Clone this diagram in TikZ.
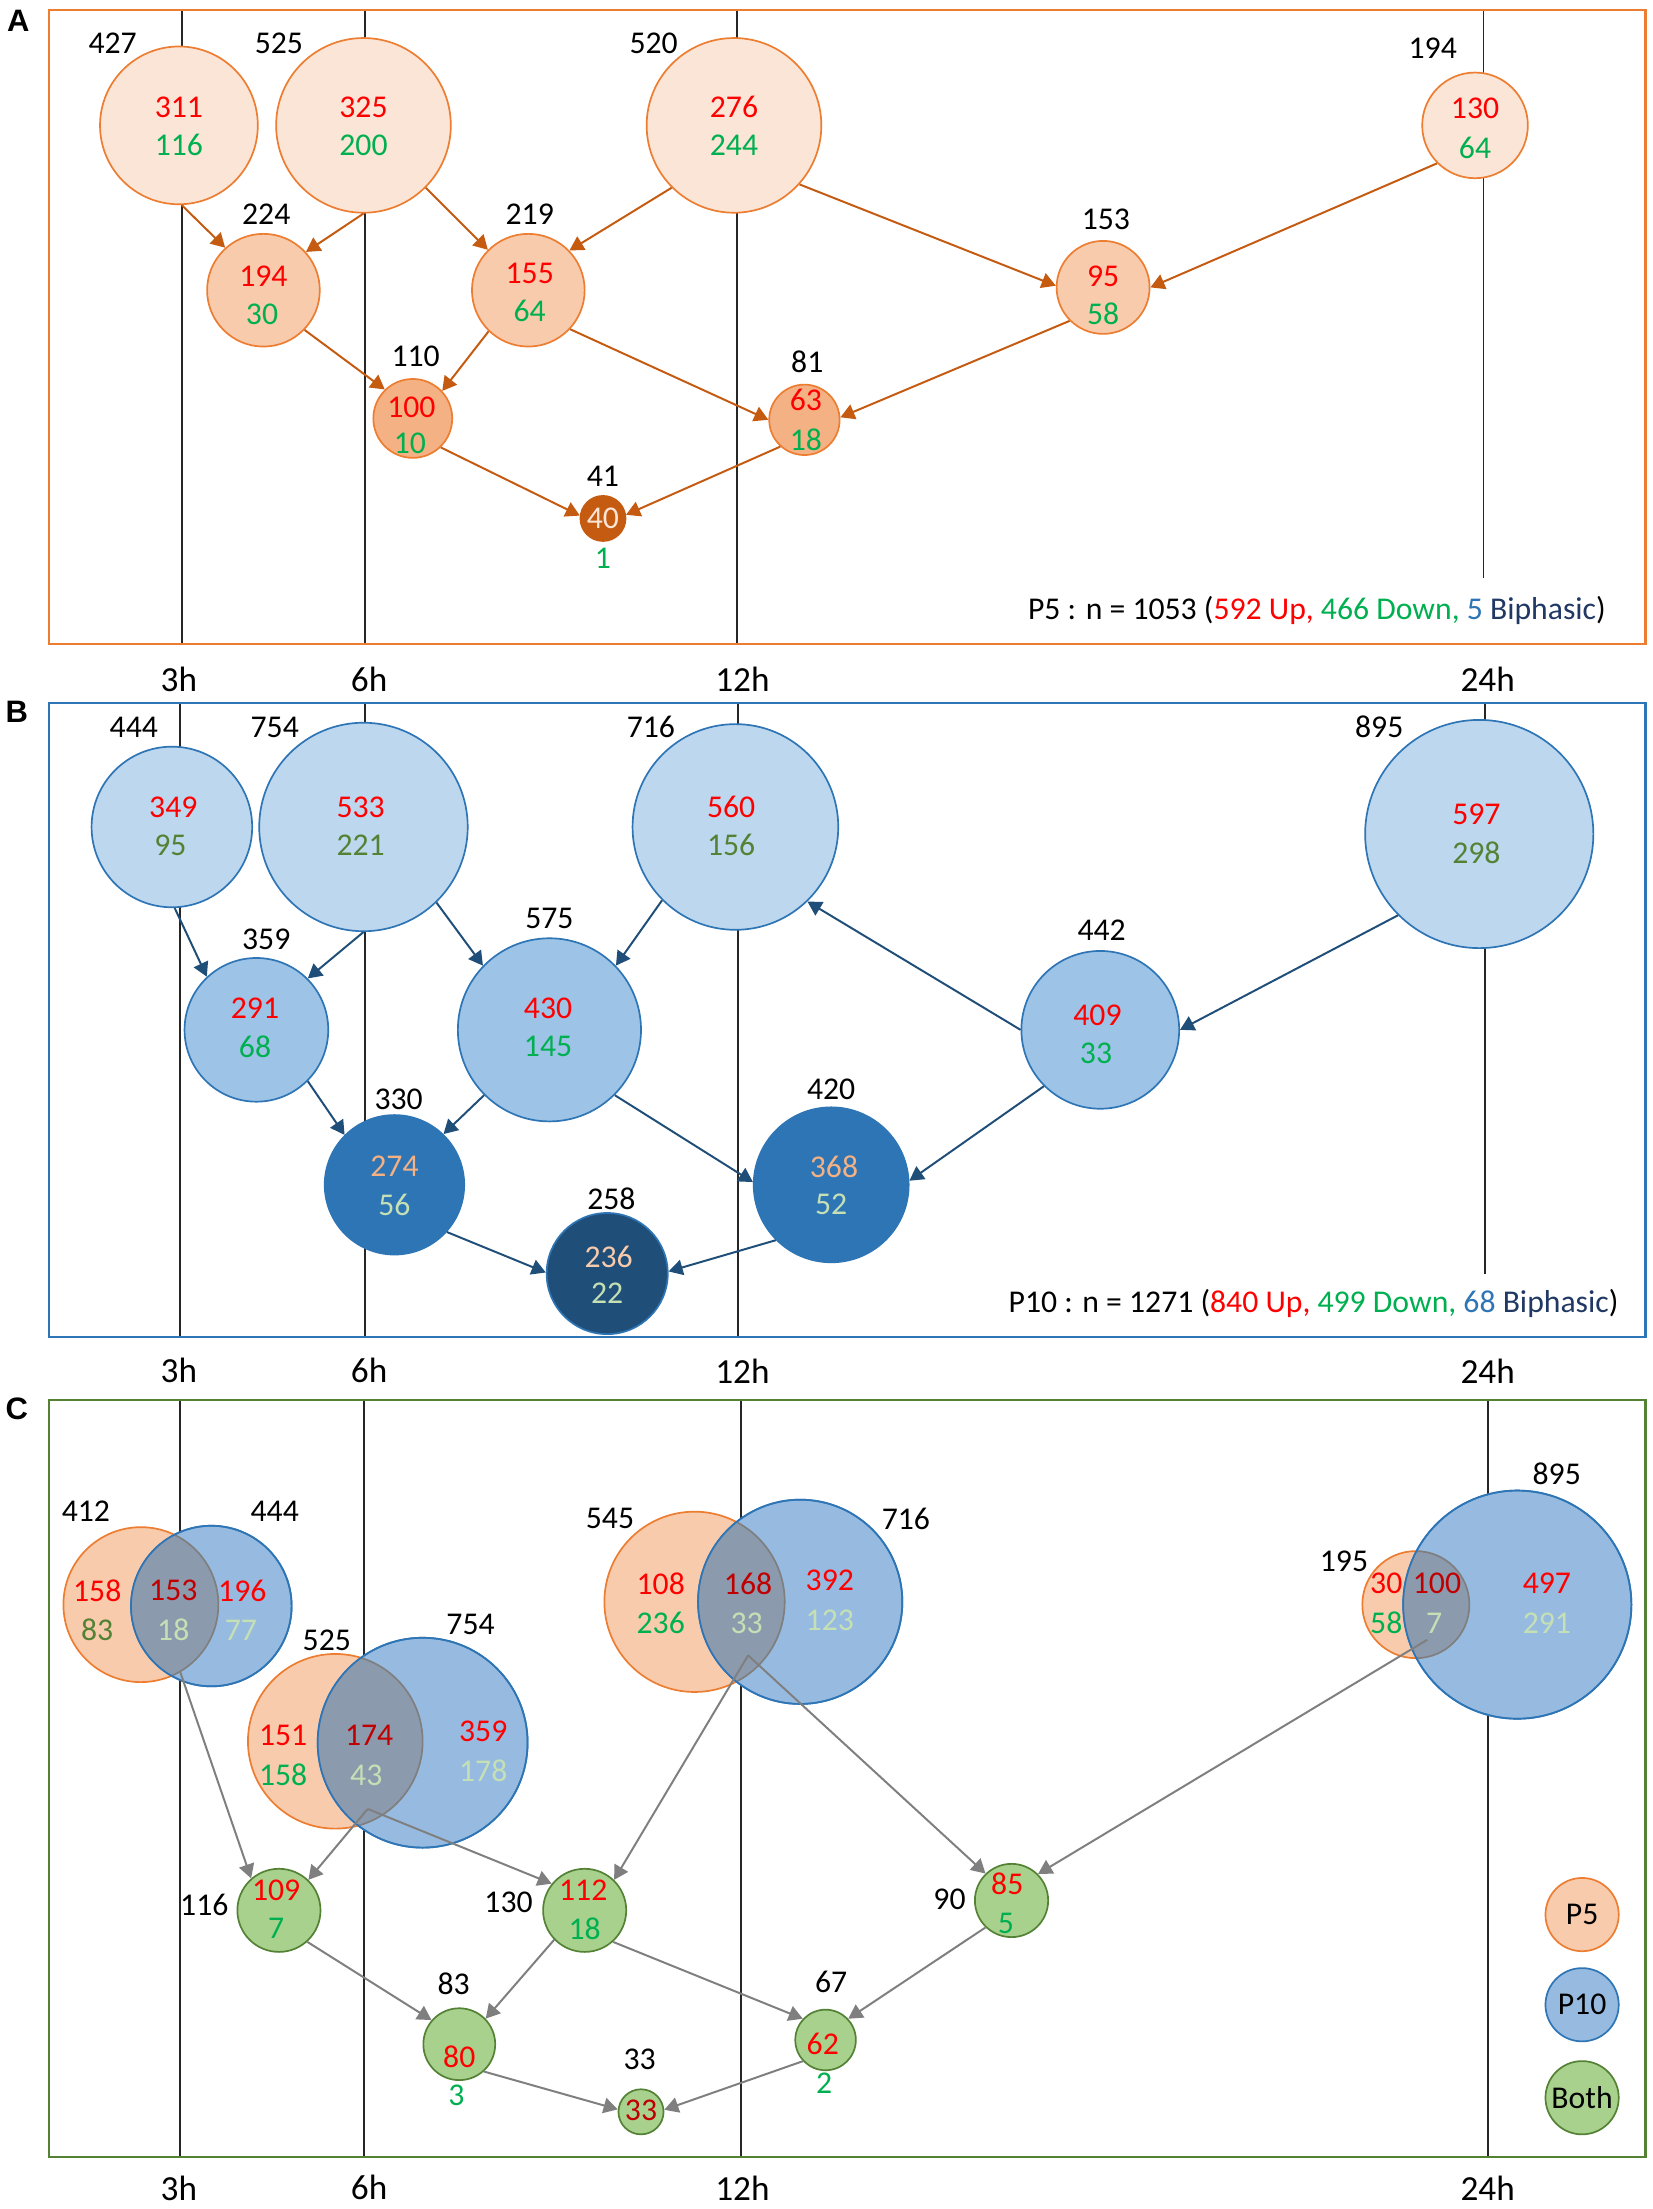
\documentclass[tikz,border=0pt]{standalone}
\usepackage{fontspec}
\setmainfont{Carlito}
\newfontfamily\hfont{Liberation Sans}
\usetikzlibrary{arrows.meta}
\definecolor{oBord}{HTML}{ED7D31}
\definecolor{oL}{HTML}{FBE5D6}
\definecolor{oM}{HTML}{F8CBAD}
\definecolor{oD}{HTML}{F4B183}
\definecolor{oX}{HTML}{C55A11}
\definecolor{bBord}{HTML}{2E75B6}
\definecolor{bL}{HTML}{BDD7EE}
\definecolor{bM}{HTML}{9DC3E6}
\definecolor{bD}{HTML}{2E75B6}
\definecolor{bX}{HTML}{1F4E79}
\definecolor{gF}{HTML}{A9D18E}
\definecolor{gBord}{HTML}{548235}
\definecolor{tR}{HTML}{FF0000}
\definecolor{tG}{HTML}{00B050}
\definecolor{tOl}{HTML}{548235}
\definecolor{tDR}{HTML}{C00000}
\definecolor{tLG}{HTML}{C5E0B4}
\definecolor{tPe}{HTML}{F4B183}
\definecolor{tPe2}{HTML}{F8CBAD}
\definecolor{cB}{HTML}{97BBE0}
\definecolor{lensc}{HTML}{8C9AAE}
\definecolor{arrCc}{HTML}{7F7F7F}
\definecolor{vl}{HTML}{262626}
\definecolor{tB}{HTML}{2E75B6}
\definecolor{tDB}{HTML}{203864}
\newcommand\numfont{\fontsize{22.5}{24}\selectfont}
\newcommand\vennlens[6]{%
  \begin{scope}\clip (#1,#2) circle[radius=#3pt]; \fill[lensc] (#4,#5) circle[radius=#6pt];\end{scope}
  \begin{scope}\clip (#4,#5) circle[radius=#6pt]; \draw[arrCc, line width=1.2pt] (#1,#2) circle[radius=#3pt];\end{scope}
  \draw[bBord, line width=1.2pt] (#4,#5) circle[radius=#6pt];}
\tikzset{
  nt/.style={inner sep=0pt, font=\numfont},
  tl/.style={inner sep=0pt, font=\fontsize{25}{27}\selectfont},
  plabel/.style={inner sep=0pt, font=\hfont\bfseries\fontsize{22}{24}\selectfont},
  bub/.style={circle, inner sep=0pt, minimum size=#1, line width=1.2pt},
  vline/.style={vl, line width=1.3pt},
  bx/.style={line width=1.5pt},
  arrO/.style={oX, line width=1.4pt, -{Triangle[length=10pt,width=11pt]}},
  arrB/.style={bX, line width=1.4pt, -{Triangle[length=10pt,width=11pt]}},
  arrC/.style={arrCc, line width=1.4pt, -{Triangle[length=10pt,width=11pt]}},
}
\begin{document}
\begin{tikzpicture}[x=1pt,y=-1pt]
\useasboundingbox[fill=white] (0,0) rectangle (1173,1568);
% vertical time lines
\foreach \x/\ya/\yb in {129/7/457, 259/7/457, 523/7/457, 1053/7/410,
  128/499/949, 259/499/949, 524/499/949, 1054/499/904,
  128/994/1531, 258.5/994/1531, 526/994/1531, 1056/994/1531}
  \draw[vline] (\x,\ya) -- (\x,\yb);
% panel boxes
\draw[bx, oBord] (35,7) rectangle (1168,457);
\draw[bx, bBord] (35,499) rectangle (1168,949);
\draw[bx, gBord] (35,994) rectangle (1168,1531);
\node[plabel] (pA) at (13,15) {A};
\node[plabel] (pB) at (12,505) {B};
\node[plabel] (pC) at (12,1000) {C};
% time labels
\foreach \y/\k in {482/a, 973/b, 1553/c}{
  \node[tl] (t3\k) at (127,\y) {3h};
  \node[tl] (t6\k) at (262,\y) {6h};
  \node[tl] (t12\k) at (527,\y) {12h};
  \node[tl] (t24\k) at (1056,\y) {24h};
}
% ===== Panel A =====
\node[bub=112, fill=oL, draw=oBord] (a427) at (127,89) {};
\node[bub=124, fill=oL, draw=oBord] (a525) at (258,89) {};
\node[bub=124, fill=oL, draw=oBord] (a520) at (521,89) {};
\node[bub=75, fill=oL, draw=oBord] (a194) at (1047,89) {};
\node[bub=80, fill=oM, draw=oBord] (a224) at (187,206) {};
\node[bub=80, fill=oM, draw=oBord] (a219) at (375,206) {};
\node[bub=66, fill=oM, draw=oBord] (a153) at (783,204) {};
\node[bub=56, fill=oD, draw=oBord] (a110) at (293,297) {};
\node[bub=50, fill=oD, draw=oBord] (a81) at (571,298) {};
\node[bub=32, fill=oX, draw=oX] (a41) at (428,368) {};
\draw[arrO] (a427.-88) -- (a224.132);
\draw[arrO] (a525.-90) -- (a224.42);
\draw[arrO] (a525.-45) -- (a219.135);
\draw[arrO] (a520.-135) -- (a219.44);
\draw[arrO] (a520.-42) -- (a153.178);
\draw[arrO] (a194.-135) -- (a153.0);
\draw[arrO] (a224.-44) -- (a110.134);
\draw[arrO] (a219.-134) -- (a110.43);
\draw[arrO] (a219.-43) -- (a81.180);
\draw[arrO] (a153.-135) -- (a81.4);
\draw[arrO] (a110.-46) -- (a41.173);
\draw[arrO] (a81.-132) -- (a41.9);
\node[nt,text=tR] (a427u) at (127,76) {311}; \node[nt,text=tG] (a427d) at (127,103) {116};
\node[nt,text=tR] (a525u) at (258,76) {325}; \node[nt,text=tG] (a525d) at (258,103) {200};
\node[nt,text=tR] (a520u) at (521,76) {276}; \node[nt,text=tG] (a520d) at (521,103) {244};
\node[nt,text=tR] (a194u) at (1047,77) {130}; \node[nt,text=tG] (a194d) at (1047,105) {64};
\node[nt,text=tR] (a224u) at (187,196) {194}; \node[nt,text=tG] (a224d) at (186,223) {30};
\node[nt,text=tR] (a219u) at (376,194) {155}; \node[nt,text=tG] (a219d) at (376,221) {64};
\node[nt,text=tR] (a153u) at (783,196) {95}; \node[nt,text=tG] (a153d) at (783,223) {58};
\node[nt,text=tR] (a110u) at (292,289) {100}; \node[nt,text=tG] (a110d) at (291,315) {10};
\node[nt,text=tR] (a81u) at (572,284) {63}; \node[nt,text=tG] (a81d) at (572,312) {18};
\node[nt,text=oL] (a41u) at (428,368) {40}; \node[nt,text=tG] (a41d) at (428,396) {1};
\node[nt] (la427) at (80,31) {427};
\node[nt] (la525) at (198,31) {525};
\node[nt] (la520) at (464,31) {520};
\node[nt] (la194) at (1017,34) {194};
\node[nt] (la224) at (189,152) {224};
\node[nt] (la219) at (376,152) {219};
\node[nt] (la153) at (785,156) {153};
\node[nt] (la110) at (295,253) {110};
\node[nt] (la81) at (573,257) {81};
\node[nt] (la41) at (428,338) {41};
\node[nt, anchor=east] (aft) at (1140,433) {P5 : n = 1053 (\textcolor{tR}{592 Up,} \textcolor{tG}{466 Down,} \textcolor{tB}{5} \textcolor{tDB}{Biphasic})};
% ===== Panel B =====
\node[bub=114, fill=bL, draw=bBord] (b444) at (122,587) {};
\node[bub=148, fill=bL, draw=bBord] (b754) at (258,587) {};
\node[bub=146, fill=bL, draw=bBord] (b716) at (522,587) {};
\node[bub=162, fill=bL, draw=bBord] (b895) at (1050,592) {};
\node[bub=102, fill=bM, draw=bBord] (b359) at (182,731) {};
\node[bub=130, fill=bM, draw=bBord] (b575) at (390,731) {};
\node[bub=112, fill=bM, draw=bBord] (b442) at (781,731) {};
\node[bub=99, fill=bD, draw=bBord] (b330) at (280,841) {};
\node[bub=110, fill=bD, draw=bBord] (b420) at (590,841) {};
\node[bub=86, fill=bX, draw=bBord] (b258) at (431,904) {};
\draw[arrB] (b444.-88) -- (b359.133);
\draw[arrB] (b754.-90) -- (b359.45);
\draw[arrB] (b754.-46) -- (b575.136);
\draw[arrB] (b716.-135) -- (b575.44);
\draw[arrB] (b442.180) -- (b716.-46);
\draw[arrB] (b895.-135) -- (b442.0);
\draw[arrB] (b359.-45) -- (b330.135);
\draw[arrB] (b575.-135) -- (b330.46);
\draw[arrB] (b575.-45) -- (b420.178);
\draw[arrB] (b442.-135) -- (b420.3);
\draw[arrB] (b330.-42) -- (b258.179);
\draw[arrB] (b420.-135) -- (b258.2);
\node[nt,text=tR] (b444u) at (123,573) {349}; \node[nt,text=tOl] (b444d) at (121,600) {95};
\node[nt,text=tR] (b754u) at (256,573) {533}; \node[nt,text=tOl] (b754d) at (256,600) {221};
\node[nt,text=tR] (b716u) at (519,573) {560}; \node[nt,text=tOl] (b716d) at (519,600) {156};
\node[nt,text=tR] (b895u) at (1048,578) {597}; \node[nt,text=tOl] (b895d) at (1048,605) {298};
\node[nt,text=tR] (b359u) at (181,716) {291}; \node[nt,text=tG] (b359d) at (181,743) {68};
\node[nt,text=tR] (b575u) at (389,716) {430}; \node[nt,text=tG] (b575d) at (389,743) {145};
\node[nt,text=tR] (b442u) at (779,721) {409}; \node[nt,text=tG] (b442d) at (778,748) {33};
\node[nt,text=tPe] (b330u) at (280,828) {274}; \node[nt,text=tLG] (b330d) at (280,855) {56};
\node[nt,text=tPe] (b420u) at (592,828) {368}; \node[nt,text=tLG] (b420d) at (590,855) {52};
\node[nt,text=tPe2] (b258u) at (432,892) {236}; \node[nt,text=tLG] (b258d) at (431,918) {22};
\node[nt] (lb444) at (95,516) {444};
\node[nt] (lb754) at (195,516) {754};
\node[nt] (lb716) at (462,516) {716};
\node[nt] (lb895) at (979,516) {895};
\node[nt] (lb359) at (189,667) {359};
\node[nt] (lb575) at (390,652) {575};
\node[nt] (lb442) at (782,660) {442};
\node[nt] (lb330) at (283,780) {330};
\node[nt] (lb420) at (590,773) {420};
\node[nt] (lb258) at (434,851) {258};
\node[nt, anchor=east] (bft) at (1149,925) {P10 : n = 1271 (\textcolor{tR}{840 Up,} \textcolor{tG}{499 Down,} \textcolor{tB}{68} \textcolor{tDB}{Biphasic})};
% ===== Panel C =====
\node[bub=110, fill=oM, draw=oBord] (c412) at (100,1139) {};
\node[bub=114, fill=cB, draw=bBord] (c444) at (150,1140) {};
\vennlens{100}{1139}{55}{150}{1140}{57}
\node[bub=124, fill=oM, draw=oBord] (c525) at (238,1236) {};
\node[bub=149, fill=cB, draw=bBord] (c754) at (300,1237) {};
\vennlens{238}{1236}{62}{300}{1237}{74.5}
\node[bub=128, fill=oM, draw=oBord] (c545) at (493,1137) {};
\node[bub=145, fill=cB, draw=bBord] (c716) at (568,1137) {};
\vennlens{493}{1137}{64}{568}{1137}{72.5}
\node[bub=76, fill=oM, draw=oBord] (c195) at (1005,1139) {};
\node[bub=162, fill=cB, draw=bBord] (c895) at (1077,1139) {};
\vennlens{1005}{1139}{38}{1077}{1139}{81}
\node[bub=59, fill=gF, draw=gBord] (c116) at (198,1356) {};
\node[bub=59, fill=gF, draw=gBord] (c130) at (415,1356) {};
\node[bub=52, fill=gF, draw=gBord] (c90) at (718,1349) {};
\node[bub=51, fill=gF, draw=gBord] (c83) at (326,1451) {};
\node[bub=43, fill=gF, draw=gBord] (c67) at (586,1448) {};
\node[bub=32, fill=gF, draw=gBord] (c33) at (455,1499) {};
\coordinate (L1) at (128,1187);
\coordinate (L2) at (261,1284);
\coordinate (L3) at (531,1175);
\coordinate (L4) at (1013,1164);
\draw[arrC] (L1) -- (c116.131);
\draw[arrC] (L2) -- (c116.46);
\draw[arrC] (L2) -- (c130.141);
\draw[arrC] (L3) -- (c130.46);
\draw[arrC] (L3) -- (c90.134);
\draw[arrC] (L4) -- (c90.45);
\draw[arrC] (c116.-48) -- (c83.139);
\draw[arrC] (c130.-136) -- (c83.44);
\draw[arrC] (c130.-48) -- (c67.137);
\draw[arrC] (c90.-134) -- (c67.43);
\draw[arrC] (c83.-48) -- (c33.174);
\draw[arrC] (c67.-137) -- (c33.5);
\node[nt,text=tR] (v1a) at (69,1129) {158}; \node[nt,text=tOl] (v1b) at (69,1157) {83};
\node[nt,text=tDR] (v1c) at (123,1129) {153}; \node[nt,text=tLG] (v1d) at (123,1157) {18};
\node[nt,text=tR] (v1e) at (172,1129) {196}; \node[nt,text=tLG] (v1f) at (171,1157) {77};
\node[nt,text=tR] (v2a) at (201,1232) {151}; \node[nt,text=tG] (v2b) at (201,1260) {158};
\node[nt,text=tDR] (v2c) at (262,1232) {174}; \node[nt,text=tLG] (v2d) at (260,1260) {43};
\node[nt,text=tR] (v2e) at (343,1229) {359}; \node[nt,text=tLG] (v2f) at (343,1257) {178};
\node[nt,text=tR] (v3a) at (469,1124) {108}; \node[nt,text=tG] (v3b) at (469,1152) {236};
\node[nt,text=tDR] (v3c) at (531,1124) {168}; \node[nt,text=tLG] (v3d) at (530,1152) {33};
\node[nt,text=tR] (v3e) at (589,1122) {392}; \node[nt,text=tLG] (v3f) at (589,1150) {123};
\node[nt,text=tR] (v4a) at (984,1124) {30}; \node[nt,text=tG] (v4b) at (984,1152) {58};
\node[nt,text=tDR] (v4c) at (1020,1124) {100}; \node[nt,text=tLG] (v4d) at (1018,1152) {7};
\node[nt,text=tR] (v4e) at (1098,1124) {497}; \node[nt,text=tLG] (v4f) at (1098,1152) {291};
\node[nt] (lc412) at (61,1073) {412};
\node[nt] (lc444) at (195,1073) {444};
\node[nt] (lc525) at (232,1164) {525};
\node[nt] (lc754) at (334,1153) {754};
\node[nt] (lc545) at (433,1078) {545};
\node[nt] (lc716) at (643,1078) {716};
\node[nt] (lc195) at (954,1108) {195};
\node[nt] (lc895) at (1105,1046) {895};
\node[nt,text=tR] (g116u) at (196,1342) {109}; \node[nt,text=tG] (g116d) at (196,1369) {7};
\node[nt,text=tR] (g130u) at (414,1342) {112}; \node[nt,text=tG] (g130d) at (415,1369) {18};
\node[nt,text=tR] (g90u) at (715,1337) {85}; \node[nt,text=tG] (g90d) at (714,1365) {5};
\node[nt,text=tR] (g83u) at (326,1460) {80}; \node[nt,text=tG] (g83d) at (324,1487) {3};
\node[nt,text=tR] (g67u) at (584,1451) {62}; \node[nt,text=tG] (g67d) at (585,1479) {2};
\node[nt,text=tDR] (g33u) at (455,1498) {33};
\node[nt] (lg116) at (145,1352) {116};
\node[nt] (lg130) at (361,1350) {130};
\node[nt] (lg90) at (674,1348) {90};
\node[nt] (lg83) at (322,1408) {83};
\node[nt] (lg67) at (590,1407) {67};
\node[nt] (lg33) at (454,1462) {33};
% legend
\node[bub=52, fill=oM, draw=oBord, font=\numfont] (legP5) at (1123,1359) {P5};
\node[bub=52, fill=cB, draw=bBord, font=\numfont] (legP10) at (1123,1423) {P10};
\node[bub=52, fill=gF, draw=gBord, font=\numfont] (legBoth) at (1123,1489) {Both};
\end{tikzpicture}
\end{document}
